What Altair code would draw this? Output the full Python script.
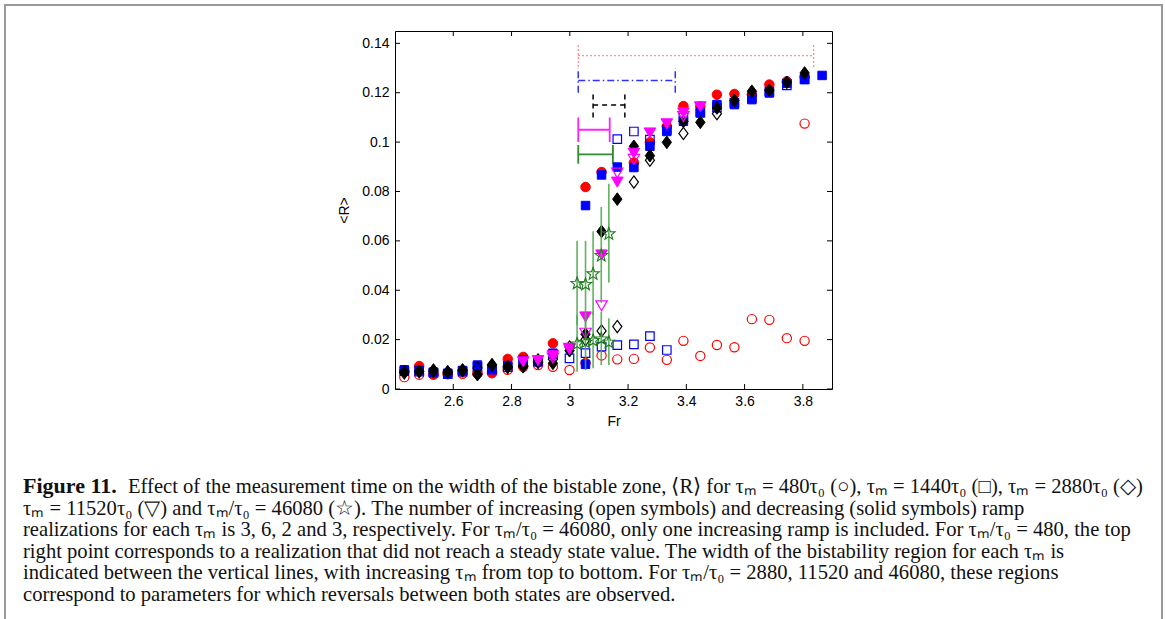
import math
import altair as alt
import pandas as pd

# ---------------- data ----------------
# tau_m = 480 tau0 : red circles
red_dec_x = [2.432, 2.483, 2.532, 2.581, 2.632, 2.683, 2.733, 2.787, 2.840, 2.891, 2.942, 3.054, 3.054, 3.109,
             3.220, 3.275, 3.333, 3.390, 3.448, 3.505, 3.565, 3.625, 3.685, 3.745, 3.806]
red_dec_y = [0.0072, 0.0093, 0.0058, 0.0060, 0.0068, 0.0062, 0.0064, 0.0122, 0.0130, 0.0110, 0.0185, 0.0105, 0.0818, 0.0879,
             0.0917, 0.0999, 0.1064, 0.1146, 0.1145, 0.1192, 0.1195, 0.1192, 0.1233, 0.1246, 0.1264]
red_inc_x = [2.432, 2.483, 2.532, 2.581, 2.632, 2.683, 2.733, 2.787, 2.840, 2.891, 2.942, 2.999, 3.109, 3.163,
             3.220, 3.275, 3.333, 3.390, 3.448, 3.505, 3.565, 3.625, 3.685, 3.745, 3.806, 3.806]
red_inc_y = [0.0048, 0.0058, 0.0060, 0.0062, 0.0062, 0.0065, 0.0070, 0.0078, 0.0090, 0.0097, 0.0090, 0.0077, 0.0136, 0.0120,
             0.0122, 0.0168, 0.0118, 0.0195, 0.0134, 0.0178, 0.0169, 0.0283, 0.0280, 0.0206, 0.0195, 0.1075]

# tau_m = 1440 tau0 : blue squares
blue_dec_x = [2.432, 2.483, 2.532, 2.581, 2.632, 2.683, 2.733, 2.787, 2.840, 2.891, 2.942, 3.054, 3.054, 3.109, 3.163,
              3.220, 3.275, 3.333, 3.390, 3.448, 3.505, 3.565, 3.625, 3.685, 3.745, 3.806, 3.866]
blue_dec_y = [0.0078, 0.0075, 0.0068, 0.0064, 0.0075, 0.0097, 0.0082, 0.0095, 0.0118, 0.0110, 0.0145, 0.0100, 0.0743, 0.0867, 0.0899,
              0.0897, 0.0983, 0.1043, 0.1084, 0.1118, 0.1152, 0.1152, 0.1172, 0.1199, 0.1238, 0.1253, 0.1270]
blue_inc_x = [2.432, 2.483, 2.532, 2.581, 2.632, 2.683, 2.733, 2.787, 2.840, 2.891, 2.942, 2.999, 3.054, 3.109, 3.163,
              3.220, 3.275, 3.333, 3.163, 3.220, 3.275, 3.333, 3.390, 3.448, 3.505, 3.565, 3.625, 3.685, 3.745, 3.806]
blue_inc_y = [0.0072, 0.0070, 0.0066, 0.0060, 0.0070, 0.0090, 0.0078, 0.0088, 0.0115, 0.0112, 0.0140, 0.0124, 0.0145, 0.0172, 0.0178,
              0.0181, 0.0214, 0.0158, 0.1012, 0.1043, 0.1010, 0.1050, 0.1100, 0.1120, 0.1140, 0.1160, 0.1180, 0.1205, 0.1230, 0.1255]

# tau_m = 2880 tau0 : black diamonds
black_dec_x = [2.432, 2.483, 2.532, 2.581, 2.632, 2.683, 2.733, 2.787, 2.840, 2.891, 2.942, 2.999, 3.054, 3.109, 3.163,
               3.220, 3.275, 3.333, 3.390, 3.448, 3.505, 3.565, 3.625, 3.685, 3.745, 3.806]
black_dec_y = [0.0070, 0.0072, 0.0077, 0.0070, 0.0077, 0.0058, 0.0097, 0.0090, 0.0090, 0.0118, 0.0104, 0.0155, 0.0222, 0.0638, 0.0769,
               0.0983, 0.0945, 0.0999, 0.1084, 0.1080, 0.1138, 0.1169, 0.1206, 0.1210, 0.1242, 0.1280]
black_inc_x = [2.432, 2.483, 2.532, 2.581, 2.632, 2.683, 2.733, 2.787, 2.840, 2.891, 2.942, 2.999, 3.054, 3.109, 3.163,
               3.220, 3.275, 3.390, 3.505]
black_inc_y = [0.0065, 0.0070, 0.0072, 0.0068, 0.0075, 0.0085, 0.0098, 0.0088, 0.0095, 0.0108, 0.0120, 0.0170, 0.0200, 0.0235, 0.0253,
               0.0838, 0.0927, 0.1035, 0.1115]

# tau_m = 11520 tau0 : magenta down-triangles
mag_dec_x = [2.840, 2.891, 2.942, 2.999, 3.054, 3.109, 3.163, 3.220, 3.275, 3.333, 3.390, 3.448]
mag_dec_y = [0.0110, 0.0115, 0.0135, 0.0160, 0.0292, 0.0543, 0.0838, 0.0955, 0.1037, 0.1074, 0.1118, 0.1143]
mag_inc_x = [2.942, 2.999, 3.054, 3.109, 3.163, 3.220, 3.390]
mag_inc_y = [0.0125, 0.0165, 0.0226, 0.0337, 0.0875, 0.0930, 0.1104]

# tau_m / tau0 = 46080 : green stars with error bars
star_x = [3.025, 3.054, 3.080, 3.108, 3.134, 3.025, 3.054, 3.080, 3.108, 3.134]
star_y = [0.0430, 0.0426, 0.0469, 0.0543, 0.0631, 0.0185, 0.0192, 0.0199, 0.0205, 0.0192]
star_err = [0.0170, 0.0174, 0.0170, 0.0194, 0.0200, 0.0115, 0.0115, 0.0115, 0.0108, 0.0095]

# bistability widths (top to bottom: increasing tau_m)
bist_name = ["480", "1440", "2880", "11520", "46080"]
bist_x1 = [3.029, 3.029, 3.080, 3.029, 3.029]
bist_x2 = [3.837, 3.362, 3.189, 3.137, 3.148]
bist_y = [0.135, 0.125, 0.115, 0.105, 0.095]
bist_h = [0.0045, 0.0050, 0.0050, 0.0050, 0.0038]

x_ticks = [2.6, 2.8, 3.0, 3.2, 3.4, 3.6, 3.8]
y_ticks = [0, 0.02, 0.04, 0.06, 0.08, 0.1, 0.12, 0.14]

caption_bold = "Figure 11."
caption_lines = [
    "Effect of the measurement time on the width of the bistable zone, ⟨R⟩ for τₘ = 480τ₀ (○), τₘ = 1440τ₀ (□), τₘ = 2880τ₀ (◇)",
    "τₘ = 11520τ₀ (▽) and τₘ/τ₀ = 46080 (☆). The number of increasing (open symbols) and decreasing (solid symbols) ramp",
    "realizations for each τₘ is 3, 6, 2 and 3, respectively. For τₘ/τ₀ = 46080, only one increasing ramp is included. For τₘ/τ₀ = 480, the top",
    "right point corresponds to a realization that did not reach a steady state value. The width of the bistability region for each τₘ is",
    "indicated between the vertical lines, with increasing τₘ from top to bottom. For τₘ/τ₀ = 2880, 11520 and 46080, these regions",
    "correspond to parameters for which reversals between both states are observed.",
]

# ---------------- chart ----------------
W, H = 437, 358
PAD_L, PAD_T = 395, 31

xs = alt.Scale(domain=[2.4, 3.9], nice=False, zero=False)
ys = alt.Scale(domain=[0, 0.145], nice=False, zero=False)

AX_FONT = "Liberation Sans"

# five-pointed star and tall diamond symbol paths in the unit box
_pts = []
for k in range(10):
    r = 1.0 if k % 2 == 0 else 0.42
    a = math.radians(-90 + 36 * k)
    _pts.append(f"{r * math.cos(a):.3f},{r * math.sin(a) + 0.1:.3f}")
STAR_PATH = "M" + "L".join(_pts) + "Z"
DIAMOND_PATH = "M0,-1L0.74,0L0,1L-0.74,0Z"


def pts(xv, yv, shape, color, filled, size):
    df = pd.DataFrame({"x": xv, "y": yv})
    if filled:
        m = alt.Chart(df).mark_point(shape=shape, filled=True, fill=color, stroke=color,
                                     strokeWidth=1, size=size, opacity=1)
    else:
        m = alt.Chart(df).mark_point(shape=shape, filled=False, stroke=color,
                                     strokeWidth=1.2, size=size, opacity=1)
    return m.encode(x=alt.X("x:Q", scale=xs), y=alt.Y("y:Q", scale=ys))


base_axes = alt.Chart(pd.DataFrame({"x": [2.4], "y": [0.0]})).mark_point(opacity=0).encode(
    x=alt.X("x:Q", scale=xs, title="Fr",
            axis=alt.Axis(values=x_ticks, format="~g", ticks=False, domain=False, grid=False,
                          labelFont=AX_FONT, labelFontSize=14, labelColor="black", labelPadding=5,
                          titleFont=AX_FONT, titleFontSize=14, titleFontWeight="normal", titleColor="black",
                          titlePadding=6)),
    y=alt.Y("y:Q", scale=ys, title="<R>",
            axis=alt.Axis(values=y_ticks, format="~g", ticks=False, domain=False, grid=False,
                          labelFont=AX_FONT, labelFontSize=14, labelColor="black", labelPadding=6,
                          titleFont=AX_FONT, titleFontSize=14, titleFontWeight="normal", titleColor="black",
                          titlePadding=10)),
)

xt = pd.DataFrame({"x": x_ticks})
yt = pd.DataFrame({"y": y_ticks})
tick_layers = [
    alt.Chart(xt).mark_rule(color="black", strokeWidth=1).encode(
        x=alt.X("x:Q", scale=xs), y=alt.value(H - 5), y2=alt.value(H)),
    alt.Chart(xt).mark_rule(color="black", strokeWidth=1).encode(
        x=alt.X("x:Q", scale=xs), y=alt.value(0), y2=alt.value(5)),
    alt.Chart(yt).mark_rule(color="black", strokeWidth=1).encode(
        y=alt.Y("y:Q", scale=ys), x=alt.value(0), x2=alt.value(5)),
    alt.Chart(yt).mark_rule(color="black", strokeWidth=1).encode(
        y=alt.Y("y:Q", scale=ys), x=alt.value(W - 5), x2=alt.value(W)),
]

bist = pd.DataFrame({"name": bist_name, "x1": bist_x1, "x2": bist_x2, "y": bist_y,
                     "lo": [a - b for a, b in zip(bist_y, bist_h)],
                     "hi": [a + b for a, b in zip(bist_y, bist_h)]})
bist_style = {
    "480": ("#ff6b6b", [1.5, 2.5], 1.3),
    "1440": ("#3030ff", [7, 3, 1.5, 3], 1.5),
    "2880": ("black", [5, 4], 1.5),
    "11520": ("#ff22ff", [1, 0], 1.8),
    "46080": ("#2e8b2e", [1, 0], 1.8),
}
bist_layers = []
for nm, (col, dash, sw) in bist_style.items():
    d = bist[bist["name"] == nm]
    bist_layers.append(alt.Chart(d).mark_rule(color=col, strokeDash=dash, strokeWidth=sw).encode(
        x=alt.X("x1:Q", scale=xs), x2="x2:Q", y=alt.Y("y:Q", scale=ys)))
    bist_layers.append(alt.Chart(d).mark_rule(color=col, strokeDash=dash, strokeWidth=sw).encode(
        x=alt.X("x1:Q", scale=xs), y=alt.Y("lo:Q", scale=ys), y2="hi:Q"))
    bist_layers.append(alt.Chart(d).mark_rule(color=col, strokeDash=dash, strokeWidth=sw).encode(
        x=alt.X("x2:Q", scale=xs), y=alt.Y("lo:Q", scale=ys), y2="hi:Q"))

sdf = pd.DataFrame({"x": star_x, "y": star_y,
                    "lo": [a - b for a, b in zip(star_y, star_err)],
                    "hi": [a + b for a, b in zip(star_y, star_err)]})
err_layer = alt.Chart(sdf).mark_rule(color="#4fa84f", strokeWidth=1.6, opacity=0.9).encode(
    x=alt.X("x:Q", scale=xs), y=alt.Y("lo:Q", scale=ys), y2="hi:Q")
star_layer = alt.Chart(sdf).mark_point(shape=STAR_PATH, filled=False, stroke="#1f7a1f", strokeWidth=1.1,
                                       size=170, opacity=1).encode(
    x=alt.X("x:Q", scale=xs), y=alt.Y("y:Q", scale=ys))

point_layers = [
    pts(red_inc_x, red_inc_y, "circle", "#ff0000", False, 85),
    pts(red_dec_x, red_dec_y, "circle", "#ff0000", True, 90),
    pts(blue_inc_x, blue_inc_y, "square", "#0000ff", False, 72),
    pts(blue_dec_x, blue_dec_y, "square", "#0000ff", True, 72),
    pts(black_inc_x, black_inc_y, DIAMOND_PATH, "black", False, 150),
    pts(black_dec_x, black_dec_y, DIAMOND_PATH, "black", True, 160),
    pts(mag_inc_x, mag_inc_y, "triangle-down", "#ff00ff", False, 130),
    pts(mag_dec_x, mag_dec_y, "triangle-down", "#ff00ff", True, 135),
]

# caption and figure frame (pixel positions relative to the plot origin)
frame = alt.Chart(pd.DataFrame({"a": [0]})).mark_rect(fill=None, stroke="#9a9a9a", strokeWidth=2).encode(
    x=alt.value(5 - PAD_L), x2=alt.value(1162 - PAD_L), y=alt.value(5 - PAD_T), y2=alt.value(640 - PAD_T))

CAP_FONT = "Liberation Serif"
CAP_SIZE = 20.6
base_lines = [493, 514.5, 536, 557.5, 579, 600.5]
cap_layers = [
    alt.Chart(pd.DataFrame({"t": [caption_bold]})).mark_text(
        font=CAP_FONT, fontSize=22, fontWeight="bold", align="left", baseline="alphabetic", color="#111").encode(
        text="t:N", x=alt.value(23 - PAD_L), y=alt.value(base_lines[0] - PAD_T))
]
for i, line in enumerate(caption_lines):
    x0 = 128 if i == 0 else 23
    cap_layers.append(alt.Chart(pd.DataFrame({"t": [line]})).mark_text(
        font=CAP_FONT, fontSize=CAP_SIZE, align="left", baseline="alphabetic", color="#111").encode(
        text="t:N", x=alt.value(x0 - PAD_L), y=alt.value(base_lines[i] - PAD_T)))

chart = alt.layer(
    base_axes, frame, *bist_layers, *point_layers, err_layer, star_layer, *tick_layers, *cap_layers
).properties(
    width=W, height=H,
    background="white",
    autosize=alt.AutoSizeParams(type="none"),
    padding={"left": PAD_L, "top": PAD_T, "right": 1165 - PAD_L - W, "bottom": 619 - PAD_T - H},
).configure_view(stroke="black", strokeWidth=1)

chart.save("out.html", embed_options={"renderer": "svg", "actions": False})
